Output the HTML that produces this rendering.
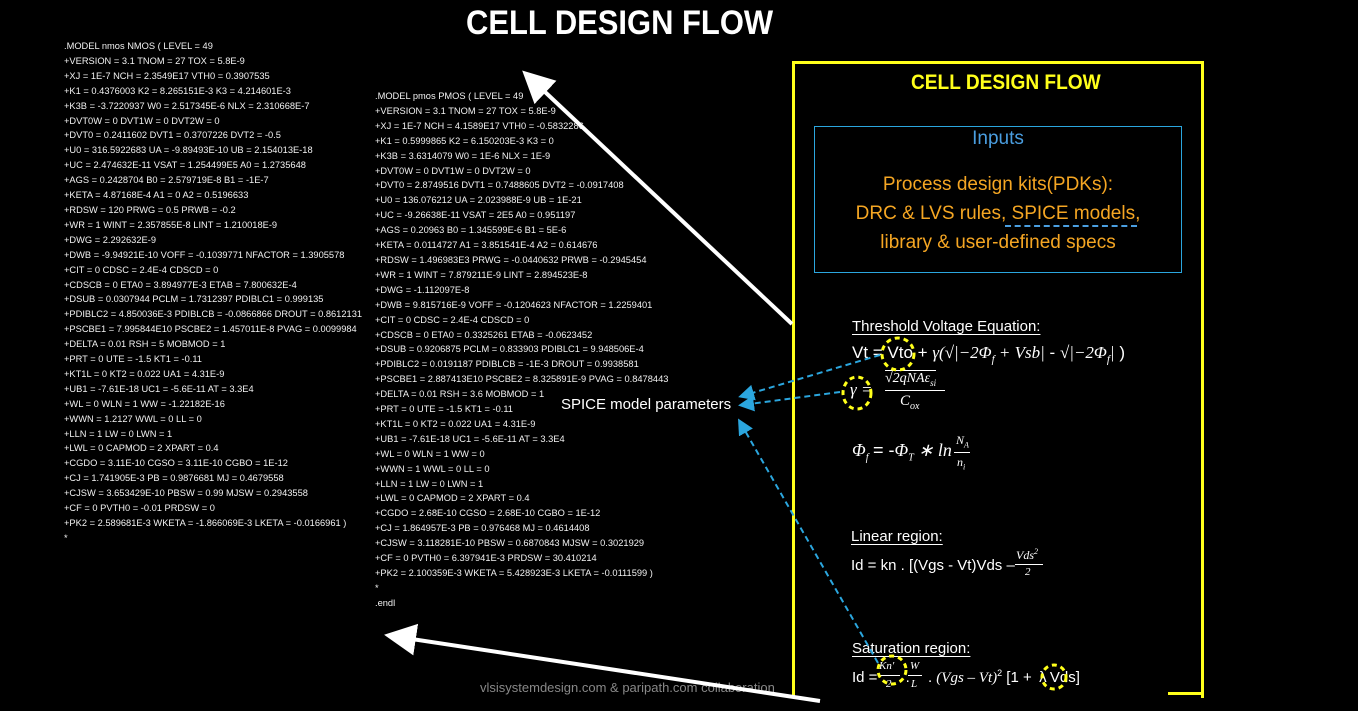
<!DOCTYPE html>
<html><head><meta charset="utf-8"><style>
body{margin:0;width:1358px;height:711px;background:#000;overflow:hidden;position:relative;font-family:"Liberation Sans",sans-serif;color:#fff}
.col{position:absolute;font-size:9.3px;line-height:14.9px;white-space:pre;color:#f2f2f2}
.t{position:absolute;white-space:nowrap}
.m{font-family:"Liberation Serif",serif;font-style:italic}
u{text-decoration-thickness:1px;text-underline-offset:3px}
</style></head><body>
<div class="t" style="left:466px;top:4px;font-size:34px;font-weight:bold;transform:scaleX(0.91);transform-origin:0 0;">CELL DESIGN FLOW</div>

<div class="col" style="left:64px;top:39px;">.MODEL nmos NMOS ( LEVEL = 49
+VERSION = 3.1 TNOM = 27 TOX = 5.8E-9
+XJ = 1E-7 NCH = 2.3549E17 VTH0 = 0.3907535
+K1 = 0.4376003 K2 = 8.265151E-3 K3 = 4.214601E-3
+K3B = -3.7220937 W0 = 2.517345E-6 NLX = 2.310668E-7
+DVT0W = 0 DVT1W = 0 DVT2W = 0
+DVT0 = 0.2411602 DVT1 = 0.3707226 DVT2 = -0.5
+U0 = 316.5922683 UA = -9.89493E-10 UB = 2.154013E-18
+UC = 2.474632E-11 VSAT = 1.254499E5 A0 = 1.2735648
+AGS = 0.2428704 B0 = 2.579719E-8 B1 = -1E-7
+KETA = 4.87168E-4 A1 = 0 A2 = 0.5196633
+RDSW = 120 PRWG = 0.5 PRWB = -0.2
+WR = 1 WINT = 2.357855E-8 LINT = 1.210018E-9
+DWG = 2.292632E-9
+DWB = -9.94921E-10 VOFF = -0.1039771 NFACTOR = 1.3905578
+CIT = 0 CDSC = 2.4E-4 CDSCD = 0
+CDSCB = 0 ETA0 = 3.894977E-3 ETAB = 7.800632E-4
+DSUB = 0.0307944 PCLM = 1.7312397 PDIBLC1 = 0.999135
+PDIBLC2 = 4.850036E-3 PDIBLCB = -0.0866866 DROUT = 0.8612131
+PSCBE1 = 7.995844E10 PSCBE2 = 1.457011E-8 PVAG = 0.0099984
+DELTA = 0.01 RSH = 5 MOBMOD = 1
+PRT = 0 UTE = -1.5 KT1 = -0.11
+KT1L = 0 KT2 = 0.022 UA1 = 4.31E-9
+UB1 = -7.61E-18 UC1 = -5.6E-11 AT = 3.3E4
+WL = 0 WLN = 1 WW = -1.22182E-16
+WWN = 1.2127 WWL = 0 LL = 0
+LLN = 1 LW = 0 LWN = 1
+LWL = 0 CAPMOD = 2 XPART = 0.4
+CGDO = 3.11E-10 CGSO = 3.11E-10 CGBO = 1E-12
+CJ = 1.741905E-3 PB = 0.9876681 MJ = 0.4679558
+CJSW = 3.653429E-10 PBSW = 0.99 MJSW = 0.2943558
+CF = 0 PVTH0 = -0.01 PRDSW = 0
+PK2 = 2.589681E-3 WKETA = -1.866069E-3 LKETA = -0.0166961 )
*</div>

<div class="col" style="left:375px;top:89px;">.MODEL pmos PMOS ( LEVEL = 49
+VERSION = 3.1 TNOM = 27 TOX = 5.8E-9
+XJ = 1E-7 NCH = 4.1589E17 VTH0 = -0.5832286
+K1 = 0.5999865 K2 = 6.150203E-3 K3 = 0
+K3B = 3.6314079 W0 = 1E-6 NLX = 1E-9
+DVT0W = 0 DVT1W = 0 DVT2W = 0
+DVT0 = 2.8749516 DVT1 = 0.7488605 DVT2 = -0.0917408
+U0 = 136.076212 UA = 2.023988E-9 UB = 1E-21
+UC = -9.26638E-11 VSAT = 2E5 A0 = 0.951197
+AGS = 0.20963 B0 = 1.345599E-6 B1 = 5E-6
+KETA = 0.0114727 A1 = 3.851541E-4 A2 = 0.614676
+RDSW = 1.496983E3 PRWG = -0.0440632 PRWB = -0.2945454
+WR = 1 WINT = 7.879211E-9 LINT = 2.894523E-8
+DWG = -1.112097E-8
+DWB = 9.815716E-9 VOFF = -0.1204623 NFACTOR = 1.2259401
+CIT = 0 CDSC = 2.4E-4 CDSCD = 0
+CDSCB = 0 ETA0 = 0.3325261 ETAB = -0.0623452
+DSUB = 0.9206875 PCLM = 0.833903 PDIBLC1 = 9.948506E-4
+PDIBLC2 = 0.0191187 PDIBLCB = -1E-3 DROUT = 0.9938581
+PSCBE1 = 2.887413E10 PSCBE2 = 8.325891E-9 PVAG = 0.8478443
+DELTA = 0.01 RSH = 3.6 MOBMOD = 1
+PRT = 0 UTE = -1.5 KT1 = -0.11
+KT1L = 0 KT2 = 0.022 UA1 = 4.31E-9
+UB1 = -7.61E-18 UC1 = -5.6E-11 AT = 3.3E4
+WL = 0 WLN = 1 WW = 0
+WWN = 1 WWL = 0 LL = 0
+LLN = 1 LW = 0 LWN = 1
+LWL = 0 CAPMOD = 2 XPART = 0.4
+CGDO = 2.68E-10 CGSO = 2.68E-10 CGBO = 1E-12
+CJ = 1.864957E-3 PB = 0.976468 MJ = 0.4614408
+CJSW = 3.118281E-10 PBSW = 0.6870843 MJSW = 0.3021929
+CF = 0 PVTH0 = 6.397941E-3 PRDSW = 30.410214
+PK2 = 2.100359E-3 WKETA = 5.428923E-3 LKETA = -0.0111599 )
*
.endl</div>

<div style="position:absolute;left:792px;top:61px;width:406px;height:634px;border:3px solid #ffff1a;border-bottom:none;"></div>
<div style="position:absolute;left:1168px;top:692px;width:33px;height:3px;background:#ffff1a"></div>
<div class="t" style="left:911px;top:71px;font-size:21px;font-weight:bold;color:#ffff1a;transform:scaleX(0.91);transform-origin:0 0;">CELL DESIGN FLOW</div>
<div style="position:absolute;left:814px;top:126px;width:366px;height:145px;border:1.5px solid #2ba6de;"></div>
<div class="t" style="left:814px;width:368px;text-align:center;top:128px;font-size:19px;color:#4a9ee0;">Inputs</div>
<div class="t" style="left:814px;width:368px;text-align:center;top:170px;font-size:19px;line-height:29px;color:#f5a623;">Process design kits(PDKs):<br>DRC &amp; LVS rules, SPICE models,<br>library &amp; user-defined specs</div>
<div style="position:absolute;left:1005px;top:225px;width:132px;border-top:2px dashed #4a9ee0"></div>

<div class="t" style="left:852px;top:318px;font-size:15px;"><u>Threshold Voltage Equation:</u></div>
<div class="t" style="left:852px;top:343px;font-size:17px;">Vt = Vto + <span class="m">γ(√|−2Φ<sub style="font-size:11px">f</sub> + Vsb|</span> - <span class="m">√|−2Φ<sub style="font-size:11px">f</sub>|</span> )</div>
<div class="t m" style="left:850px;top:380px;font-size:17px;">γ =</div>
<div class="t m" style="left:885px;top:370px;font-size:14px;border-top:1px solid #fff;">√2qNAε<sub style="font-size:9px">si</sub></div>
<div style="position:absolute;left:885px;top:390px;width:60px;border-top:1.5px solid #fff"></div>
<div class="t m" style="left:900px;top:393px;font-size:15px;">C<sub style="font-size:10px">ox</sub></div>
<div class="t m" style="left:852px;top:440px;font-size:18px;">Φ<sub style="font-size:10px">f</sub> <span style="font-style:normal;font-family:'Liberation Sans'">= -</span>Φ<sub style="font-size:10px">T</sub> ∗ ln</div>
<div class="t m" style="left:956px;top:433px;font-size:12px;">N<sub style="font-size:8px">A</sub></div>
<div style="position:absolute;left:954px;top:452px;width:16px;border-top:1px solid #fff"></div>
<div class="t m" style="left:957px;top:455px;font-size:12px;">n<sub style="font-size:8px">i</sub></div>

<div class="t" style="left:851px;top:528px;font-size:15px;"><u>Linear region:</u></div>
<div class="t" style="left:851px;top:557px;font-size:15px;">Id = kn . [(Vgs - Vt)Vds –</div>
<div class="t m" style="left:1016px;top:547px;font-size:12px;">Vds<sup style="font-size:8px">2</sup></div>
<div style="position:absolute;left:1015px;top:564px;width:28px;border-top:1px solid #fff"></div>
<div class="t m" style="left:1025px;top:566px;font-size:11px;">2</div>

<div class="t" style="left:852px;top:640px;font-size:15px;"><u>Saturation region:</u></div>
<div class="t" style="left:852px;top:668px;font-size:15px;">Id = <span style="display:inline-block;width:24px"></span>. <span style="display:inline-block;width:14px"></span>. <span class="m">(Vgs – Vt)</span><sup style="font-size:9px">2</sup> [1 + <span style="display:inline-block;width:14px;text-align:center">λ</span>Vds]</div>
<div class="t m" style="left:879px;top:660px;font-size:11px;">Kn′</div>
<div style="position:absolute;left:878px;top:675px;width:22px;border-top:1px solid #fff"></div>
<div class="t m" style="left:886px;top:678px;font-size:11px;">2</div>
<div class="t m" style="left:910px;top:660px;font-size:11px;">W</div>
<div style="position:absolute;left:908px;top:675px;width:14px;border-top:1px solid #fff"></div>
<div class="t m" style="left:911px;top:678px;font-size:11px;">L</div>

<div class="t" style="left:561px;top:396px;font-size:15px;">SPICE model parameters</div>
<div class="t" style="left:480px;top:680px;font-size:13px;color:#888;">vlsisystemdesign.com &amp; paripath.com collaboration</div>

<svg width="1358" height="711" style="position:absolute;left:0;top:0">
<defs>
<marker id="wa" markerWidth="8" markerHeight="8" refX="6" refY="4" orient="auto"><path d="M0,0 L8,4 L0,8 z" fill="#fff"/></marker>
<marker id="ba" markerWidth="8" markerHeight="8" refX="6" refY="4" orient="auto"><path d="M0,0 L8,4 L0,8 z" fill="#2ba6de"/></marker>
</defs>
<line x1="792" y1="324" x2="528" y2="76" stroke="#fff" stroke-width="4" marker-end="url(#wa)"/>
<line x1="820" y1="701" x2="392" y2="636" stroke="#fff" stroke-width="4" marker-end="url(#wa)"/>
<g stroke="#2ba6de" stroke-width="2" stroke-dasharray="6,4" fill="none">
<line x1="880" y1="355" x2="742" y2="396" marker-end="url(#ba)"/>
<line x1="840" y1="392" x2="742" y2="405" marker-end="url(#ba)"/>
<line x1="878" y1="663" x2="740" y2="422" marker-end="url(#ba)"/>
</g>
<g stroke="#ffff1a" stroke-width="3" stroke-dasharray="5,4" fill="none">
<ellipse cx="898" cy="354" rx="16" ry="16"/>
<ellipse cx="857" cy="393" rx="14" ry="16"/>
<ellipse cx="892" cy="670" rx="14" ry="14"/>
<ellipse cx="1054" cy="677" rx="12" ry="12"/>
</g>
</svg>
</body></html>
